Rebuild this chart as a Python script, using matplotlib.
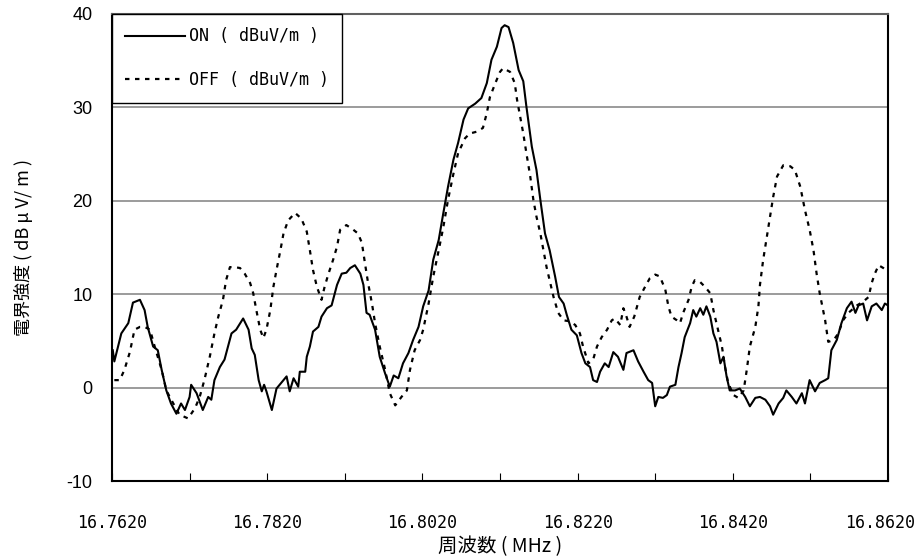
import matplotlib
matplotlib.use('Agg')
import matplotlib.pyplot as plt
import matplotlib.transforms as mtransforms
import numpy as np

# ON trace (frequency MHz, field strength dBuV/m)
on_freq = [16.7621, 16.7623, 16.7632, 16.7641, 16.7647, 16.7656, 16.7662, 16.7666, 16.7673, 16.7679,
           16.7684, 16.7690, 16.7696, 16.7703, 16.7709, 16.7714, 16.7720, 16.7722, 16.7729, 16.7737,
           16.7744, 16.7748, 16.7752, 16.7759, 16.7765, 16.7774, 16.7780, 16.7789, 16.7796, 16.7800,
           16.7804, 16.7809, 16.7813, 16.7816, 16.7819, 16.7826, 16.7832, 16.7839, 16.7845, 16.7849,
           16.7854, 16.7860, 16.7862, 16.7869, 16.7871, 16.7875, 16.7879, 16.7886, 16.7890, 16.7897,
           16.7903, 16.7910, 16.7916, 16.7922, 16.7927, 16.7933, 16.7940, 16.7944, 16.7948, 16.7952,
           16.7959, 16.7965, 16.7972, 16.7978, 16.7983, 16.7989, 16.7995, 16.8002, 16.8008, 16.8015,
           16.8021, 16.8028, 16.8034, 16.8041, 16.8047, 16.8053, 16.8060, 16.8066, 16.8073, 16.8079,
           16.8088, 16.8096, 16.8103, 16.8109, 16.8116, 16.8122, 16.8126, 16.8131, 16.8137, 16.8144,
           16.8150, 16.8154, 16.8161, 16.8167, 16.8172, 16.8178, 16.8184, 16.8191, 16.8196, 16.8202,
           16.8206, 16.8212, 16.8219, 16.8225, 16.8230, 16.8236, 16.8240, 16.8245, 16.8249, 16.8255,
           16.8260, 16.8266, 16.8272, 16.8279, 16.8283, 16.8292, 16.8298, 16.8305, 16.8311, 16.8316,
           16.8320, 16.8324, 16.8330, 16.8335, 16.8339, 16.8346, 16.8350, 16.8354, 16.8358, 16.8365,
           16.8369, 16.8373, 16.8378, 16.8382, 16.8386, 16.8391, 16.8395, 16.8399, 16.8404, 16.8408,
           16.8412, 16.8416, 16.8423, 16.8429, 16.8436, 16.8442, 16.8449, 16.8455, 16.8462, 16.8468,
           16.8472, 16.8479, 16.8485, 16.8489, 16.8496, 16.8502, 16.8509, 16.8513, 16.8519, 16.8526,
           16.8532, 16.8539, 16.8543, 16.8547, 16.8554, 16.8560, 16.8567, 16.8573, 16.8578, 16.8582,
           16.8588, 16.8593, 16.8599, 16.8605, 16.8612, 16.8616, 16.8620]
on_val = [4.0, 2.8, 5.8, 6.9, 9.1, 9.4, 8.3, 6.5, 4.4, 4.0,
          1.9, -0.3, -1.7, -2.8, -1.7, -2.4, -1.0, 0.3, -0.6, -2.4,
          -1.0, -1.3, 0.8, 2.2, 3.0, 5.8, 6.2, 7.4, 6.2, 4.2,
          3.5, 0.8, -0.4, 0.3, -0.4, -2.4, -0.1, 0.6, 1.2, -0.4,
          1.0, 0.1, 1.7, 1.7, 3.3, 4.4, 6.0, 6.5, 7.6, 8.5,
          8.8, 11.0, 12.2, 12.3, 12.8, 13.1, 12.2, 11.0, 8.0, 7.8,
          6.2, 3.3, 1.5, 0.1, 1.3, 1.0, 2.6, 3.7, 5.1, 6.5,
          8.7, 10.4, 13.7, 15.8, 18.7, 21.5, 24.4, 26.2, 28.7, 29.9,
          30.4, 31.0, 32.6, 35.1, 36.5, 38.5, 38.8, 38.6, 36.9, 34.0,
          32.8, 30.1, 25.8, 23.3, 20.1, 16.5, 14.7, 11.9, 9.7, 9.0,
          7.8, 6.2, 5.6, 3.7, 2.6, 2.2, 0.8, 0.6, 1.7, 2.6,
          2.2, 3.8, 3.3, 1.9, 3.7, 4.0, 2.8, 1.7, 0.8, 0.5,
          -2.0, -1.0, -1.1, -0.8, 0.1, 0.3, 2.2, 3.7, 5.4, 6.9,
          8.3, 7.6, 8.5, 7.8, 8.7, 7.6, 5.8, 4.9, 2.6, 3.3,
          1.2, -0.3, -0.3, -0.1, -1.0, -2.0, -1.1, -1.0, -1.3, -2.0,
          -2.9, -1.7, -1.1, -0.3, -1.0, -1.7, -0.6, -1.7, 0.8, -0.4,
          0.5, 0.8, 1.0, 4.0, 5.1, 6.9, 8.5, 9.2, 8.0, 8.8,
          9.0, 7.2, 8.7, 9.0, 8.3, 9.0, 8.8]

# OFF trace
off_freq = [16.7623, 16.7630, 16.7636, 16.7643, 16.7649, 16.7656, 16.7662, 16.7669, 16.7675, 16.7684,
            16.7690, 16.7699, 16.7707, 16.7718, 16.7727, 16.7733, 16.7739, 16.7746, 16.7752, 16.7757,
            16.7763, 16.7767, 16.7772, 16.7778, 16.7785, 16.7791, 16.7798, 16.7802, 16.7806, 16.7811,
            16.7815, 16.7819, 16.7824, 16.7828, 16.7832, 16.7837, 16.7841, 16.7847, 16.7856, 16.7864,
            16.7871, 16.7875, 16.7879, 16.7884, 16.7890, 16.7894, 16.7899, 16.7905, 16.7910, 16.7914,
            16.7922, 16.7931, 16.7937, 16.7942, 16.7946, 16.7950, 16.7955, 16.7959, 16.7965, 16.7972,
            16.7978, 16.7985, 16.7993, 16.8000, 16.8004, 16.8010, 16.8017, 16.8021, 16.8028, 16.8034,
            16.8041, 16.8047, 16.8053, 16.8060, 16.8066, 16.8075, 16.8081, 16.8090, 16.8098, 16.8103,
            16.8107, 16.8114, 16.8120, 16.8124, 16.8133, 16.8139, 16.8142, 16.8146, 16.8150, 16.8154,
            16.8159, 16.8163, 16.8167, 16.8172, 16.8176, 16.8180, 16.8184, 16.8189, 16.8195, 16.8202,
            16.8210, 16.8217, 16.8223, 16.8227, 16.8234, 16.8240, 16.8245, 16.8251, 16.8258, 16.8264,
            16.8268, 16.8275, 16.8279, 16.8283, 16.8287, 16.8293, 16.8300, 16.8307, 16.8313, 16.8320,
            16.8326, 16.8333, 16.8337, 16.8341, 16.8348, 16.8352, 16.8356, 16.8363, 16.8367, 16.8371,
            16.8378, 16.8384, 16.8391, 16.8395, 16.8401, 16.8406, 16.8410, 16.8414, 16.8421, 16.8427,
            16.8434, 16.8438, 16.8442, 16.8449, 16.8453, 16.8455, 16.8459, 16.8464, 16.8468, 16.8472,
            16.8477, 16.8485, 16.8494, 16.8500, 16.8507, 16.8513, 16.8519, 16.8524, 16.8528, 16.8532,
            16.8539, 16.8543, 16.8550, 16.8556, 16.8562, 16.8569, 16.8580, 16.8588, 16.8595, 16.8599,
            16.8603, 16.8608, 16.8614, 16.8620]
off_val = [0.8, 0.8, 1.9, 3.8, 6.2, 6.5, 6.5, 6.2, 4.4, 1.9,
           -0.3, -1.7, -2.9, -3.3, -2.2, -1.0, 0.8, 3.3, 5.8, 7.6,
           9.4, 11.5, 12.9, 12.9, 12.8, 12.2, 11.2, 10.1, 8.3, 6.2,
           5.3, 6.2, 8.3, 10.8, 12.6, 14.7, 16.5, 17.9, 18.7, 18.1,
           16.7, 14.7, 12.6, 10.8, 9.4, 10.8, 12.2, 13.7, 15.1, 16.9,
           17.4, 16.9, 16.5, 15.5, 13.3, 11.2, 9.0, 6.9, 4.4, 1.9,
           -0.6, -1.9, -1.0, -0.3, 1.9, 4.0, 5.1, 6.2, 9.0, 11.9,
           14.7, 17.2, 20.1, 22.9, 25.1, 26.7, 27.2, 27.4, 27.8, 29.4,
           31.1, 32.6, 33.8, 34.2, 33.8, 32.6, 30.8, 29.0, 27.2, 25.1,
           22.6, 20.1, 18.3, 16.5, 14.7, 12.9, 11.5, 9.7, 8.0, 7.2,
           7.1, 6.7, 5.8, 4.4, 2.6, 3.0, 4.4, 5.4, 6.2, 7.2,
           7.4, 6.7, 8.5, 7.6, 6.5, 7.6, 9.7, 10.8, 11.7, 12.1,
           11.9, 10.5, 8.7, 7.6, 7.2, 6.9, 8.0, 9.4, 10.8, 11.5,
           11.3, 10.8, 10.1, 8.3, 6.2, 4.4, 2.2, 0.5, -0.8, -1.1,
           -0.3, 1.9, 4.4, 6.5, 8.7, 11.0, 13.6, 16.2, 18.3, 20.4,
           22.6, 23.8, 23.7, 23.3, 21.5, 19.0, 16.9, 14.7, 12.2, 10.1,
           7.2, 4.9, 5.1, 5.8, 7.2, 8.0, 8.8, 9.2, 9.7, 11.2,
           12.2, 13.1, 12.8, 12.4]

x_ticks = [16.762, 16.772, 16.782, 16.792, 16.802, 16.812, 16.822, 16.832, 16.842, 16.852, 16.862]
y_ticks = [-10, 0, 10, 20, 30, 40]

plt.rcParams['font.family'] = ['Liberation Sans', 'Noto Sans CJK JP']
plt.rcParams['axes.unicode_minus'] = False

fig = plt.figure(figsize=(9.24, 5.6), dpi=100)
ax = fig.add_axes([112 / 924, 79 / 560, 776 / 924, 467 / 560])

ax.plot(on_freq, on_val, color='black', lw=1.5, label='ON ( dBuV/m )')
ax.plot(off_freq, off_val, color='black', lw=1.6, linestyle=(0, (2, 2.5)), label='OFF ( dBuV/m )')

ax.set_xlim(16.762, 16.862)
ax.set_ylim(-10, 40)
ax.set_xticks(x_ticks)
ax.set_xticklabels(['{:.4f}'.format(t) if i % 2 == 0 else '' for i, t in enumerate(x_ticks)],
                   family='DejaVu Sans Mono')
ax.set_yticks(y_ticks)
ax.tick_params(axis='x', direction='in', length=6, width=0.8, pad=24, labelsize=12)
ax.tick_params(axis='y', length=0, pad=14, labelsize=13)

# last label sits a little inside the figure edge, as in the original
last = ax.get_xticklabels()[-1]
last.set_transform(last.get_transform() + mtransforms.ScaledTranslation(-6 / 72, 0, fig.dpi_scale_trans))

for y in [0, 10, 20, 30]:
    ax.axhline(y, color='#808080', lw=1.1, zorder=0)

for s in ['left', 'bottom', 'right']:
    ax.spines[s].set_linewidth(1.5)
    ax.spines[s].set_color('black')
ax.spines['top'].set_color('#606060')
ax.spines['top'].set_linewidth(1.5)

ax.set_xlabel('周波数 ( MHz )', fontsize=14, family=['Noto Sans CJK JP'], labelpad=3)
ax.set_ylabel('電界強度 ( dB μ V/ m )', fontsize=13, family=['Noto Sans CJK JP'], labelpad=24)

leg = ax.legend(loc='upper left', borderaxespad=0, handlelength=3.6, handletextpad=0.2,
                fancybox=False, edgecolor='black', framealpha=1, borderpad=0.8, labelspacing=1.55,
                prop={'family': ['DejaVu Sans Mono'], 'size': 12})
leg.get_frame().set_linewidth(1.0)

fig.savefig('out.png', dpi=100)
